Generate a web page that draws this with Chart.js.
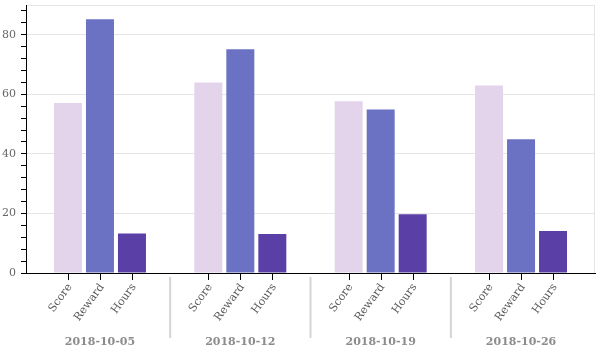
<!DOCTYPE html>
<html>
<head>
<meta charset="utf-8">
<script src="https://cdn.jsdelivr.net/npm/chart.js@4/dist/chart.umd.min.js"></script>
<style>
  html, body { margin: 0; padding: 0; background: #fff; }
  #wrap { width: 600px; height: 350px; }
</style>
</head>
<body>
<div id="wrap"><canvas id="chart"></canvas></div>
<script>
// weekly groups and the three measures drawn in each
const dates = ['2018-10-05', '2018-10-12', '2018-10-19', '2018-10-26'];
const seriesNames = ['Score', 'Reward', 'Hours'];
const score = [57.1, 64.0, 57.7, 63.0];
const reward = [85.2, 75.1, 54.9, 44.9];
const hours = [13.3, 13.1, 19.7, 14.1];
const colors = ['#e3d4eb', '#6b72c4', '#5a3fa6'];

const serif = "'DejaVu Serif', serif";

// small tick under every bar, rotated measure names, group separators
const subLabels = {
  id: 'subLabels',
  afterDraw(chart) {
    const { ctx, chartArea } = chart;
    const xScale = chart.scales.x;
    ctx.save();

    // right frame line
    ctx.strokeStyle = '#e5e5e5';
    ctx.lineWidth = 1;
    ctx.beginPath();
    ctx.moveTo(chartArea.right - 0.5, chartArea.top);
    ctx.lineTo(chartArea.right - 0.5, chartArea.bottom);
    ctx.stroke();

    chart.data.datasets.forEach((ds, di) => {
      const meta = chart.getDatasetMeta(di);
      meta.data.forEach((bar) => {
        ctx.strokeStyle = '#000';
        ctx.lineWidth = 1;
        ctx.beginPath();
        ctx.moveTo(Math.round(bar.x) + 0.5, chartArea.bottom);
        ctx.lineTo(Math.round(bar.x) + 0.5, chartArea.bottom + 7);
        ctx.stroke();

        ctx.save();
        ctx.translate(bar.x + 2, chartArea.bottom + 12);
        ctx.rotate(-54 * Math.PI / 180);
        ctx.font = '11px ' + serif;
        ctx.fillStyle = '#5a5a5a';
        ctx.textAlign = 'right';
        ctx.textBaseline = 'middle';
        ctx.fillText(ds.label, 0, 0);
        ctx.restore();
      });
    });

    ctx.strokeStyle = '#d4d4d4';
    ctx.lineWidth = 2;
    for (let i = 0; i < dates.length - 1; i++) {
      const x = (xScale.getPixelForValue(i) + xScale.getPixelForValue(i + 1)) / 2;
      ctx.beginPath();
      ctx.moveTo(x, chartArea.bottom + 4);
      ctx.lineTo(x, chartArea.bottom + 65);
      ctx.stroke();
    }
    ctx.restore();
  }
};

const toPoints = (arr) => arr.map((v, i) => ({ x: i, y: v }));

new Chart(document.getElementById('chart'), {
  type: 'bar',
  data: {
    datasets: [score, reward, hours].map((vals, i) => ({
      label: seriesNames[i],
      data: toPoints(vals),
      backgroundColor: colors[i],
      borderWidth: 0,
      categoryPercentage: 0.684,
      barPercentage: 0.875,
    })),
  },
  options: {
    responsive: true,
    maintainAspectRatio: false,
    animation: false,
    layout: { padding: { top: 5, right: 5, left: 0, bottom: 0 } },
    plugins: {
      legend: { display: false },
      tooltip: { enabled: false },
    },
    scales: {
      x: {
        type: 'linear',
        offset: false,
        min: -0.527,
        max: 3.527,
        afterBuildTicks: (scale) => {
          scale.ticks = dates.map((d, i) => ({ value: i }));
        },
        afterFit: (scale) => {
          scale.height = 77;
          scale.paddingLeft = 0;
          scale.paddingRight = 0;
        },
        grid: { display: false, offset: false },
        border: { color: '#000', width: 1 },
        ticks: {
          padding: 55,
          maxRotation: 0,
          autoSkip: false,
          color: '#8c8c8c',
          font: { family: serif, size: 11, weight: 'bold' },
          callback: (v) => dates[v],
        },
      },
      y: {
        min: 0,
        max: 90,
        afterBuildTicks: (scale) => {
          const t = [];
          for (let v = 0; v <= 88; v += 4) t.push({ value: v });
          t.push({ value: 90 });
          scale.ticks = t;
        },
        afterFit: (scale) => {
          scale.width = 26;
          scale.paddingTop = 0;
          scale.paddingBottom = 0;
        },
        border: { color: '#000', width: 1 },
        grid: {
          tickLength: 5,
          color: (c) => (c.tick && (c.tick.value % 20 === 0 || c.tick.value === 90) ? '#e5e5e5' : 'rgba(0,0,0,0)'),
          tickColor: (c) => (c.tick && c.tick.value === 90 ? 'rgba(0,0,0,0)' : '#000'),
        },
        ticks: {
          padding: 5,
          autoSkip: false,
          color: '#666',
          font: { family: serif, size: 11 },
          callback: (v) => (v % 20 === 0 && v !== 90 ? v : ''),
        },
      },
    },
  },
  plugins: [subLabels],
});
</script>
</body>
</html>
